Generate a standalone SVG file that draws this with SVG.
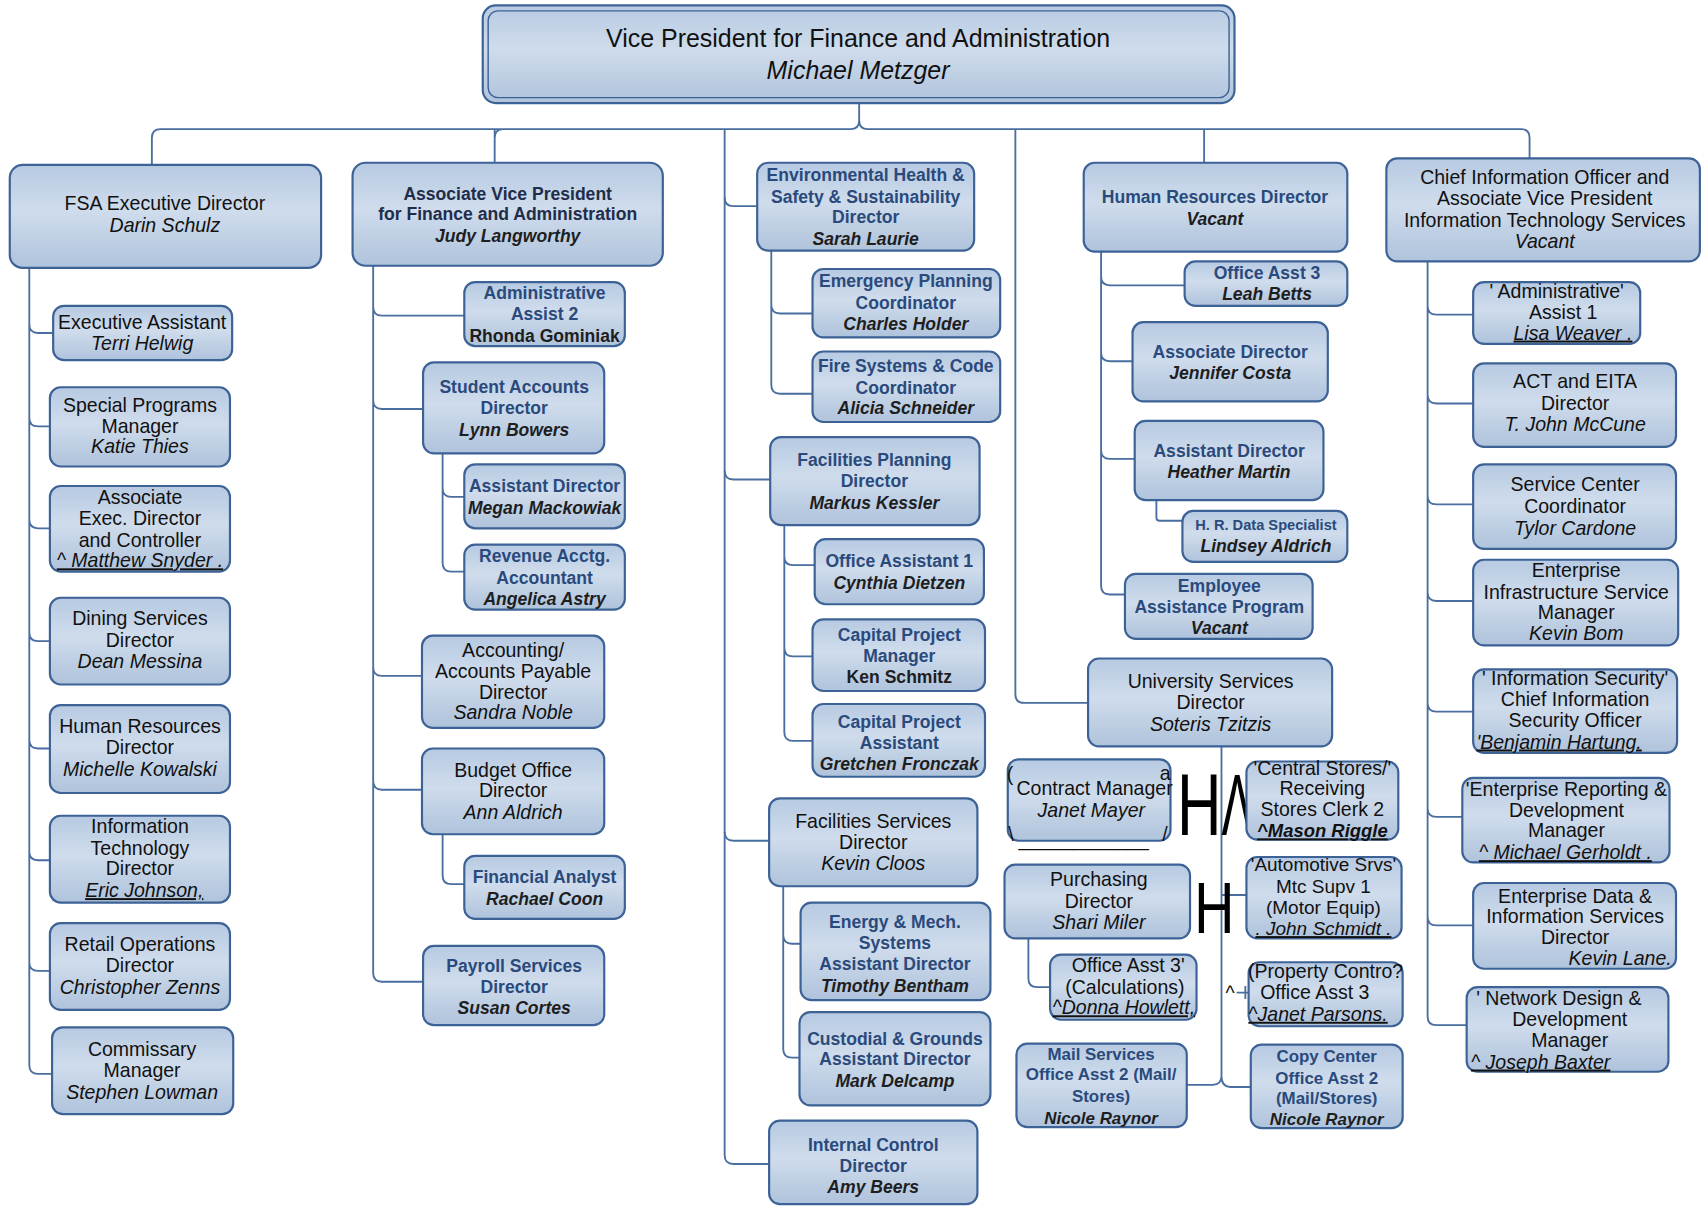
<svg xmlns="http://www.w3.org/2000/svg" width="1701" height="1207" viewBox="0 0 1701 1207">
<defs>
<linearGradient id="bg" x1="0" y1="0" x2="0" y2="1">
<stop offset="0" stop-color="#b7cae2"/>
<stop offset="0.45" stop-color="#cfdcec"/>
<stop offset="1" stop-color="#afc3dc"/>
</linearGradient>
<style>
.b{fill:url(#bg);stroke:#3d6296;stroke-width:2}
.c{fill:none;stroke:#4a6e9f;stroke-width:1.7}
text{font-family:"Liberation Sans",Arial,sans-serif;font-size:18px;fill:#111;text-anchor:middle}
.i{font-style:italic}
.u{text-decoration:underline}
.bl{font-weight:bold;fill:#2a4a7c;font-size:16.2px}
.bk{font-weight:bold;fill:#1e1e1e;font-size:16.2px}
.bi{font-weight:bold;font-style:italic;fill:#1e1e1e;font-size:16.2px}
.dk{font-weight:bold;fill:#1f2d4a;font-size:16.2px}
.big{font-size:80px;fill:#000;text-anchor:start}
</style>
</defs>
<rect width="1701" height="1207" fill="#fff"/>
<g transform="scale(1.0848)">
<g id="connectors">
<path class="c" d="M792,95 V111 Q792,119 784,119 H148 Q140,119 140,127 V152 M456,119 Q456,119 456,127 V150 M464,119 Q456,119 456,127 M792,111 Q792,119 800,119 H1402 Q1410,119 1410,127 V146 M668,119 V1065 Q668,1073 676,1073 H709 M936,119 V640 Q936,648 944,648 H1003 M1110,119 V150"/>
<path class="c" d="M668,182 Q668,190 676,190 H698 M668,434 Q668,442 676,442 H710 M668,767 Q668,775 676,775 H709"/>
<path class="c" d="M27,247 V982 Q27,990 35,990 H48 M27,299 Q27,307 35,307 H49 M27,385 Q27,393 35,393 H46 M27,479 Q27,487 35,487 H46 M27,583 Q27,591 35,591 H46 M27,682 Q27,690 35,690 H46 M27,785 Q27,793 35,793 H46 M27,887 Q27,895 35,895 H46"/>
<path class="c" d="M344,245 V897 Q344,905 352,905 H390 M344,283 Q344,291 352,291 H428 M344,369 Q344,377 352,377 H390 M344,615 Q344,623 352,623 H389 M344,720 Q344,728 352,728 H389"/>
<path class="c" d="M408,418 V519 Q408,527 416,527 H428 M408,450 Q408,458 416,458 H428 M408,769 V807 Q408,815 416,815 H428"/>
<path class="c" d="M711,231 V355 Q711,363 719,363 H749 M711,281 Q711,289 719,289 H749"/>
<path class="c" d="M723,484 V675 Q723,683 731,683 H749 M723,513 Q723,521 731,521 H751 M723,597 Q723,605 731,605 H749"/>
<path class="c" d="M722,817 V967 Q722,975 730,975 H737 M722,862 Q722,870 730,870 H738"/>
<path class="c" d="M1015,232 V540 Q1015,548 1023,548 H1037 M1015,255 Q1015,263 1023,263 H1092 M1015,325 Q1015,333 1023,333 H1044 M1015,415 Q1015,423 1023,423 H1046 M1066,461 V477 Q1066,480 1069,480 H1090"/>
<path class="c" d="M1126,688 V992 Q1126,1000 1118,1000 H1094 M1126,992 Q1126,1002 1134,1002 H1153 M1126,825 H1149 M948,865 V902 Q948,910 956,910 H968 M1140,915 H1152 M1148,909 V921"/>
<path class="c" d="M1316,241 V937 Q1316,945 1324,945 H1352 M1316,282 Q1316,290 1324,290 H1358 M1316,364 Q1316,372 1324,372 H1358 M1316,457 Q1316,465 1324,465 H1358 M1316,546 Q1316,554 1324,554 H1358 M1316,648 Q1316,656 1324,656 H1358 M1316,745 Q1316,753 1324,753 H1348 M1316,845 Q1316,853 1324,853 H1358"/>
</g>

<g id="vp">
<rect class="b" x="445" y="5" width="693" height="90" rx="12" stroke-width="2.5"/>
<rect x="450" y="10" width="683" height="80" rx="9" fill="none" stroke="#3d6296" stroke-width="1.3"/>
<text style="font-size:23px"><tspan x="791" y="43">Vice President for Finance and Administration</tspan><tspan class="i" x="791" y="73">Michael Metzger</tspan></text>
</g>

<g id="fsa">
<rect class="b" x="9" y="152" width="287" height="95" rx="12"/>
<text><tspan x="152" y="194">FSA Executive Director</tspan><tspan class="i" x="152" y="214">Darin Schulz</tspan></text>
</g>
<g id="exec-asst">
<rect class="b" x="49" y="282" width="165" height="50" rx="10"/>
<text><tspan x="131" y="303">Executive Assistant</tspan><tspan class="i" x="131" y="323">Terri Helwig</tspan></text>
</g>
<g id="special-programs">
<rect class="b" x="46" y="357" width="166" height="73" rx="10"/>
<text><tspan x="129" y="380">Special Programs</tspan><tspan x="129" y="399">Manager</tspan><tspan class="i" x="129" y="418">Katie Thies</tspan></text>
</g>
<g id="assoc-exec">
<rect class="b" x="46" y="448" width="166" height="79" rx="10"/>
<text><tspan x="129" y="465">Associate</tspan><tspan x="129" y="484">Exec. Director</tspan><tspan x="129" y="504">and Controller</tspan><tspan class="i u" x="129" y="523">^ Matthew Snyder .</tspan></text>
</g>
<g id="dining">
<rect class="b" x="46" y="551" width="166" height="80" rx="10"/>
<text><tspan x="129" y="576">Dining Services</tspan><tspan x="129" y="596">Director</tspan><tspan class="i" x="129" y="616">Dean Messina</tspan></text>
</g>
<g id="fsa-hr">
<rect class="b" x="46" y="650" width="166" height="81" rx="10"/>
<text><tspan x="129" y="676">Human Resources</tspan><tspan x="129" y="695">Director</tspan><tspan class="i" x="129" y="715">Michelle Kowalski</tspan></text>
</g>
<g id="fsa-it">
<rect class="b" x="46" y="752" width="166" height="80" rx="10"/>
<text><tspan x="129" y="768">Information</tspan><tspan x="129" y="788">Technology</tspan><tspan x="129" y="807">Director</tspan><tspan class="i u" x="133" y="827">Eric Johnson,</tspan></text>
</g>
<g id="retail">
<rect class="b" x="46" y="851" width="166" height="80" rx="10"/>
<text><tspan x="129" y="877">Retail Operations</tspan><tspan x="129" y="896">Director</tspan><tspan class="i" x="129" y="916">Christopher Zenns</tspan></text>
</g>
<g id="commissary">
<rect class="b" x="48" y="947" width="167" height="80" rx="10"/>
<text><tspan x="131" y="973">Commissary</tspan><tspan x="131" y="993">Manager</tspan><tspan class="i" x="131" y="1013">Stephen Lowman</tspan></text>
</g>

<g id="avp">
<rect class="b" x="325" y="150" width="286" height="95" rx="12"/>
<text><tspan class="dk" x="468" y="184">Associate Vice President</tspan><tspan class="dk" x="468" y="203">for Finance and Administration</tspan><tspan class="bi" x="468" y="223">Judy Langworthy</tspan></text>
</g>
<g id="admin-assist-2">
<rect class="b" x="428" y="260" width="148" height="59" rx="10"/>
<text><tspan class="bl" x="502" y="276">Administrative</tspan><tspan class="bl" x="502" y="295">Assist 2</tspan><tspan class="bk" x="502" y="315">Rhonda Gominiak</tspan></text>
</g>
<g id="student-accounts">
<rect class="b" x="390" y="334" width="167" height="84" rx="10"/>
<text><tspan class="bl" x="474" y="362">Student Accounts</tspan><tspan class="bl" x="474" y="382">Director</tspan><tspan class="bi" x="474" y="402">Lynn Bowers</tspan></text>
</g>
<g id="sa-asst-dir">
<rect class="b" x="428" y="428" width="148" height="59" rx="10"/>
<text><tspan class="bl" x="502" y="454">Assistant Director</tspan><tspan class="bi" x="502" y="474">Megan Mackowiak</tspan></text>
</g>
<g id="revenue">
<rect class="b" x="428" y="502" width="148" height="60" rx="10"/>
<text><tspan class="bl" x="502" y="518">Revenue Acctg.</tspan><tspan class="bl" x="502" y="538">Accountant</tspan><tspan class="bi" x="502" y="558">Angelica Astry</tspan></text>
</g>
<g id="accounting">
<rect class="b" x="389" y="586" width="168" height="85" rx="10"/>
<text><tspan x="473" y="606">Accounting/</tspan><tspan x="473" y="625">Accounts Payable</tspan><tspan x="473" y="644">Director</tspan><tspan class="i" x="473" y="663">Sandra Noble</tspan></text>
</g>
<g id="budget">
<rect class="b" x="389" y="690" width="168" height="79" rx="10"/>
<text><tspan x="473" y="716">Budget Office</tspan><tspan x="473" y="735">Director</tspan><tspan class="i" x="473" y="755">Ann Aldrich</tspan></text>
</g>
<g id="financial-analyst">
<rect class="b" x="428" y="789" width="148" height="58" rx="10"/>
<text><tspan class="bl" x="502" y="814">Financial Analyst</tspan><tspan class="bi" x="502" y="834">Rachael Coon</tspan></text>
</g>
<g id="payroll">
<rect class="b" x="390" y="872" width="167" height="73" rx="10"/>
<text><tspan class="bl" x="474" y="896">Payroll Services</tspan><tspan class="bl" x="474" y="915">Director</tspan><tspan class="bi" x="474" y="935">Susan Cortes</tspan></text>
</g>

<g id="ehs">
<rect class="b" x="698" y="150" width="200" height="81" rx="10"/>
<text><tspan class="bl" x="798" y="167">Environmental Health &amp;</tspan><tspan class="bl" x="798" y="187">Safety &amp; Sustainability</tspan><tspan class="bl" x="798" y="206">Director</tspan><tspan class="bi" x="798" y="226">Sarah Laurie</tspan></text>
</g>
<g id="emergency">
<rect class="b" x="749" y="248" width="173" height="63" rx="10"/>
<text><tspan class="bl" x="835" y="265">Emergency Planning</tspan><tspan class="bl" x="835" y="285">Coordinator</tspan><tspan class="bi" x="835" y="304">Charles Holder</tspan></text>
</g>
<g id="fire">
<rect class="b" x="749" y="324" width="173" height="65" rx="10"/>
<text><tspan class="bl" x="835" y="343">Fire Systems &amp; Code</tspan><tspan class="bl" x="835" y="363">Coordinator</tspan><tspan class="bi" x="835" y="382">Alicia Schneider</tspan></text>
</g>
<g id="facilities-planning">
<rect class="b" x="710" y="403" width="193" height="81" rx="10"/>
<text><tspan class="bl" x="806" y="430">Facilities Planning</tspan><tspan class="bl" x="806" y="449">Director</tspan><tspan class="bi" x="806" y="469">Markus Kessler</tspan></text>
</g>
<g id="office-assistant-1">
<rect class="b" x="751" y="497" width="156" height="60" rx="10"/>
<text><tspan class="bl" x="829" y="523">Office Assistant 1</tspan><tspan class="bi" x="829" y="543">Cynthia Dietzen</tspan></text>
</g>
<g id="cap-manager">
<rect class="b" x="749" y="571" width="159" height="66" rx="10"/>
<text><tspan class="bl" x="829" y="591">Capital Project</tspan><tspan class="bl" x="829" y="610">Manager</tspan><tspan class="bk" x="829" y="630">Ken Schmitz</tspan></text>
</g>
<g id="cap-assistant">
<rect class="b" x="749" y="649" width="159" height="67" rx="10"/>
<text><tspan class="bl" x="829" y="671">Capital Project</tspan><tspan class="bl" x="829" y="690">Assistant</tspan><tspan class="bi" x="829" y="710">Gretchen Fronczak</tspan></text>
</g>
<g id="facilities-services">
<rect class="b" x="709" y="736" width="192" height="81" rx="10"/>
<text><tspan x="805" y="763">Facilities Services</tspan><tspan x="805" y="783">Director</tspan><tspan class="i" x="805" y="802">Kevin Cloos</tspan></text>
</g>
<g id="energy">
<rect class="b" x="738" y="832" width="175" height="90" rx="10"/>
<text><tspan class="bl" x="825" y="855">Energy &amp; Mech.</tspan><tspan class="bl" x="825" y="875">Systems</tspan><tspan class="bl" x="825" y="894">Assistant Director</tspan><tspan class="bi" x="825" y="914">Timothy Bentham</tspan></text>
</g>
<g id="custodial">
<rect class="b" x="737" y="933" width="176" height="86" rx="10"/>
<text><tspan class="bl" x="825" y="963">Custodial &amp; Grounds</tspan><tspan class="bl" x="825" y="982">Assistant Director</tspan><tspan class="bi" x="825" y="1002">Mark Delcamp</tspan></text>
</g>
<g id="internal-control">
<rect class="b" x="709" y="1033" width="192" height="77" rx="10"/>
<text><tspan class="bl" x="805" y="1061">Internal Control</tspan><tspan class="bl" x="805" y="1080">Director</tspan><tspan class="bi" x="805" y="1100">Amy Beers</tspan></text>
</g>

<g id="hr">
<rect class="b" x="999" y="150" width="243" height="82" rx="10"/>
<text><tspan class="bl" x="1120" y="187">Human Resources Director</tspan><tspan class="bi" x="1120" y="207">Vacant</tspan></text>
</g>
<g id="office-asst-3-hr">
<rect class="b" x="1092" y="241" width="150" height="41" rx="10"/>
<text><tspan class="bl" x="1168" y="257">Office Asst 3</tspan><tspan class="bi" x="1168" y="277">Leah Betts</tspan></text>
</g>
<g id="hr-assoc-dir">
<rect class="b" x="1044" y="297" width="180" height="73" rx="10"/>
<text><tspan class="bl" x="1134" y="330">Associate Director</tspan><tspan class="bi" x="1134" y="349">Jennifer Costa</tspan></text>
</g>
<g id="hr-asst-dir">
<rect class="b" x="1046" y="388" width="174" height="73" rx="10"/>
<text><tspan class="bl" x="1133" y="421">Assistant Director</tspan><tspan class="bi" x="1133" y="441">Heather Martin</tspan></text>
</g>
<g id="hr-data">
<rect class="b" x="1090" y="471" width="152" height="47" rx="10"/>
<text><tspan class="bl" style="font-size:13.5px" x="1167" y="489">H. R. Data Specialist</tspan><tspan class="bi" x="1167" y="509">Lindsey Aldrich</tspan></text>
</g>
<g id="eap">
<rect class="b" x="1037" y="529" width="173" height="60" rx="10"/>
<text><tspan class="bl" x="1124" y="546">Employee</tspan><tspan class="bl" x="1124" y="565">Assistance Program</tspan><tspan class="bi" x="1124" y="584">Vacant</tspan></text>
</g>

<g id="university-services">
<rect class="b" x="1003" y="607" width="225" height="81" rx="10"/>
<text><tspan x="1116" y="634">University Services</tspan><tspan x="1116" y="654">Director</tspan><tspan class="i" x="1116" y="674">Soteris Tzitzis</tspan></text>
</g>
<g id="contract-manager">
<rect class="b" x="929" y="700" width="150" height="75" rx="10"/>
<text><tspan x="1009" y="733">Contract Manager</tspan><tspan class="i" x="1006" y="753">Janet Mayer</tspan></text>
<text x="931" y="720">(</text>
<text x="1074" y="719">a</text>
<text x="932" y="775">\</text>
<text x="1074" y="775">/</text>
<text x="999" y="780">____________</text>
</g>
<g id="glyphs">
<text class="big" x="1085" y="770" textLength="41" lengthAdjust="spacingAndGlyphs">H</text>
<text class="big" x="1126" y="770" textLength="29" lengthAdjust="spacingAndGlyphs" style="font-weight:300">Λ</text>
<text class="big" x="1101" y="860" textLength="37" lengthAdjust="spacingAndGlyphs" style="font-size:66px">H</text>
<text x="1134" y="922">^</text>
</g>
<g id="central-stores">
<rect class="b" x="1149" y="702" width="140" height="72" rx="10"/>
<text><tspan x="1219" y="714">'Central Stores/'</tspan><tspan x="1219" y="733">Receiving</tspan><tspan x="1219" y="752">Stores Clerk 2</tspan><tspan class="u" style="font-weight:bold;font-style:italic;font-size:17px" x="1219" y="772">^Mason Riggle</tspan></text>
</g>
<g id="automotive">
<rect class="b" x="1149" y="790" width="143" height="75" rx="10"/>
<text style="font-size:17.5px"><tspan x="1220" y="803">'Automotive Srvs'</tspan><tspan x="1220" y="823">Mtc Supv 1</tspan><tspan x="1220" y="843">(Motor Equip)</tspan><tspan class="i u" x="1220" y="862">. John Schmidt .</tspan></text>
</g>
<g id="purchasing">
<rect class="b" x="926" y="797" width="171" height="68" rx="10"/>
<text><tspan x="1013" y="817">Purchasing</tspan><tspan x="1013" y="837">Director</tspan><tspan class="i" x="1013" y="856">Shari Miler</tspan></text>
</g>
<g id="office-asst-3-calc">
<rect class="b" x="968" y="880" width="135" height="60" rx="10"/>
<text><tspan x="1040" y="896">Office Asst 3'</tspan><tspan x="1037" y="916">(Calculations)</tspan><tspan class="i u" x="1036" y="935">^Donna Howlett,</tspan></text>
</g>
<g id="property-control">
<rect class="b" x="1151" y="887" width="142" height="59" rx="10"/>
<text><tspan x="1222" y="902">(Property Contro?</tspan><tspan x="1212" y="921">Office Asst 3</tspan><tspan class="i u" x="1215" y="941">^Janet Parsons.</tspan></text>
</g>
<g id="mail-services">
<rect class="b" x="937" y="962" width="157" height="77" rx="10"/>
<text><tspan class="bl" style="font-size:15.6px" x="1015" y="977">Mail Services</tspan><tspan class="bl" style="font-size:15.6px" x="1015" y="996">Office Asst 2 (Mail/</tspan><tspan class="bl" style="font-size:15.6px" x="1015" y="1016">Stores)</tspan><tspan class="bi" style="font-size:15.6px" x="1015" y="1036">Nicole Raynor</tspan></text>
</g>
<g id="copy-center">
<rect class="b" x="1153" y="963" width="140" height="77" rx="10"/>
<text><tspan class="bl" style="font-size:15.6px" x="1223" y="979">Copy Center</tspan><tspan class="bl" style="font-size:15.6px" x="1223" y="999">Office Asst 2</tspan><tspan class="bl" style="font-size:15.6px" x="1223" y="1018">(Mail/Stores)</tspan><tspan class="bi" style="font-size:15.6px" x="1223" y="1037">Nicole Raynor</tspan></text>
</g>

<g id="cio">
<rect class="b" x="1278" y="146" width="289" height="95" rx="10"/>
<text><tspan x="1424" y="170">Chief Information Officer and</tspan><tspan x="1424" y="189">Associate Vice President</tspan><tspan x="1424" y="209">Information Technology Services</tspan><tspan class="i" x="1424" y="229">Vacant</tspan></text>
</g>
<g id="admin-assist-1">
<rect class="b" x="1358" y="260" width="154" height="57" rx="10"/>
<text><tspan x="1435" y="275">' Administrative'</tspan><tspan x="1441" y="294">Assist 1</tspan><tspan class="i u" x="1450" y="313">Lisa Weaver .</tspan></text>
</g>
<g id="act-eita">
<rect class="b" x="1358" y="335" width="187" height="77" rx="10"/>
<text><tspan x="1452" y="358">ACT and EITA</tspan><tspan x="1452" y="378">Director</tspan><tspan class="i" x="1452" y="397">T. John McCune</tspan></text>
</g>
<g id="service-center">
<rect class="b" x="1358" y="428" width="187" height="78" rx="10"/>
<text><tspan x="1452" y="453">Service Center</tspan><tspan x="1452" y="473">Coordinator</tspan><tspan class="i" x="1452" y="493">Tylor Cardone</tspan></text>
</g>
<g id="enterprise-infra">
<rect class="b" x="1358" y="516" width="189" height="79" rx="10"/>
<text><tspan x="1453" y="532">Enterprise</tspan><tspan x="1453" y="552">Infrastructure Service</tspan><tspan x="1453" y="571">Manager</tspan><tspan class="i" x="1453" y="590">Kevin Bom</tspan></text>
</g>
<g id="info-security">
<rect class="b" x="1358" y="617" width="188" height="77" rx="10"/>
<text><tspan x="1452" y="631">' Information Security'</tspan><tspan x="1452" y="651">Chief Information</tspan><tspan x="1452" y="670">Security Officer</tspan><tspan class="i u" style="text-anchor:start" x="1361" y="690">'Benjamin Hartung.</tspan></text>
</g>
<g id="enterprise-reporting">
<rect class="b" x="1348" y="717" width="191" height="78" rx="10"/>
<text><tspan x="1444" y="734">'Enterprise Reporting &amp;</tspan><tspan x="1444" y="753">Development</tspan><tspan x="1444" y="772">Manager</tspan><tspan class="i u" x="1443" y="792">^ Michael Gerholdt .</tspan></text>
</g>
<g id="enterprise-data">
<rect class="b" x="1358" y="814" width="187" height="79" rx="10"/>
<text><tspan x="1452" y="832">Enterprise Data &amp;</tspan><tspan x="1452" y="851">Information Services</tspan><tspan x="1452" y="870">Director</tspan><tspan class="i" style="text-anchor:end" x="1541" y="890">Kevin Lane.</tspan></text>
</g>
<g id="network-design">
<rect class="b" x="1352" y="910" width="186" height="78" rx="10"/>
<text><tspan x="1437" y="926">' Network Design &amp;</tspan><tspan x="1447" y="946">Development</tspan><tspan x="1447" y="965">Manager</tspan><tspan class="i u" style="text-anchor:start" x="1356" y="985">^ Joseph Baxter</tspan></text>
</g>
</g>
</svg>
